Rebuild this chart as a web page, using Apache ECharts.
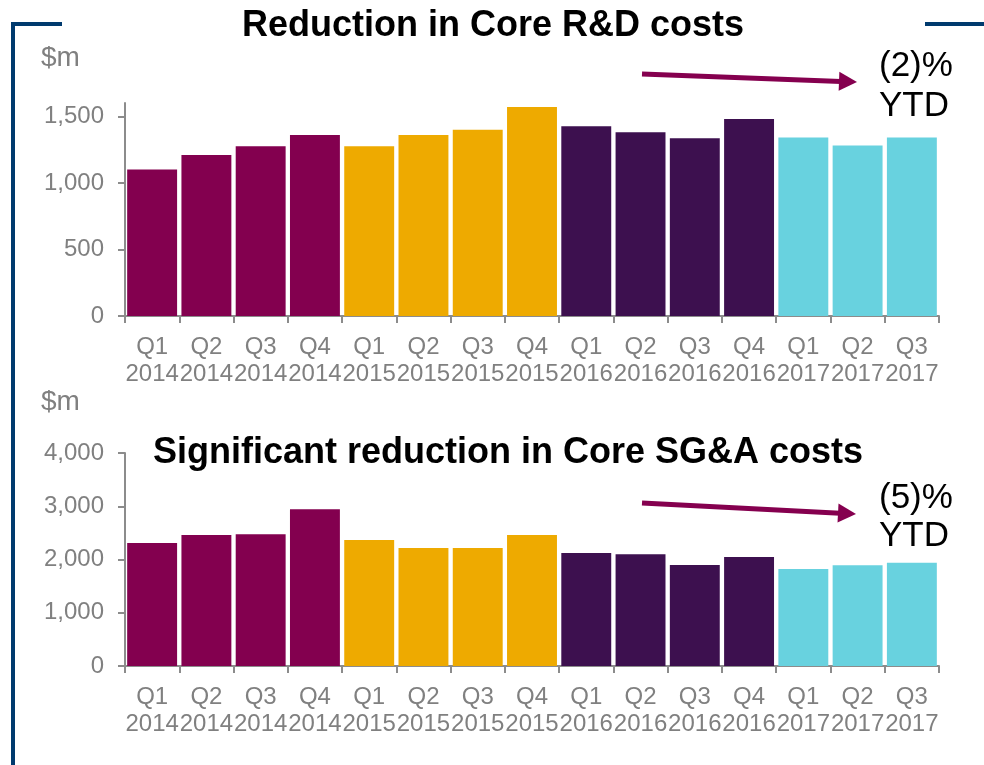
<!DOCTYPE html>
<html>
<head>
<meta charset="utf-8">
<script src="https://cdn.jsdelivr.net/npm/echarts@6/dist/echarts.min.js"></script>
<style>
html,body{margin:0;padding:0;background:#fff;}
#chart{width:984px;height:765px;}
</style>
</head>
<body>
<div id="chart"></div>
<script>
// ---- data ----
var categories = ['Q1\n2014','Q2\n2014','Q3\n2014','Q4\n2014',
                  'Q1\n2015','Q2\n2015','Q3\n2015','Q4\n2015',
                  'Q1\n2016','Q2\n2016','Q3\n2016','Q4\n2016',
                  'Q1\n2017','Q2\n2017','Q3\n2017'];
var rdCosts   = [1100,1210,1275,1360, 1275,1360,1400,1570, 1425,1380,1335,1480, 1340,1280,1340];
var sgaCosts  = [2310,2460,2475,2945, 2365,2215,2215,2460, 2120,2100,1895,2045, 1820,1890,1940];
var rdTicks   = [0,500,1000,1500];
var sgaTicks  = [0,1000,2000,3000,4000];
var titleTop = 'Reduction in Core R&D costs';
var titleBottom = 'Significant reduction in Core SG&A costs';
var noteTop = '(2)%\nYTD';
var noteBottom = '(5)%\nYTD';
var unitLabel = '$m';

// ---- styles ----
var yearColors = ['#83004F','#EEAA00','#3D104F','#68D2DF'];
var FONT = '"Liberation Sans", Arial, Helvetica, sans-serif';
var GRAY = '#808080';
var AXIS = '#8C8C8C';
var NAVY = '#003A6E';
var ARROW = '#85004F';

function coloredData(vals){
  return vals.map(function(v,i){
    return {value:v, itemStyle:{color:yearColors[Math.floor(i/4)]}};
  });
}
function fmt(v){ return Number(v).toLocaleString('en-US'); }

function xAxisCfg(gridIndex){
  return {
    type:'category', gridIndex:gridIndex, data:categories,
    axisLine:{lineStyle:{color:AXIS,width:2}},
    axisTick:{show:true,alignWithLabel:false,length:7,lineStyle:{color:AXIS,width:2}},
    axisLabel:{interval:0,color:GRAY,fontFamily:FONT,fontSize:24,lineHeight:27,margin:18}
  };
}
function yAxisCfg(gridIndex,max,interval,ticks){
  return {
    type:'value', gridIndex:gridIndex, min:0, max:max, interval:interval,
    splitLine:{show:false},
    axisLine:{show:true,lineStyle:{color:AXIS,width:2}},
    axisTick:{show:true,length:7,lineStyle:{color:AXIS,width:2},customValues:ticks},
    axisLabel:{color:GRAY,fontFamily:FONT,fontSize:24,margin:21,customValues:ticks,formatter:fmt}
  };
}

function arrow(x1,y1,x2,y2){
  var dx=x2-x1, dy=y2-y1, L=Math.sqrt(dx*dx+dy*dy), ux=dx/L, uy=dy/L;
  var hl=18, hw=9.5;
  var bx=x2-ux*hl, by=y2-uy*hl;
  return [
    {type:'line',shape:{x1:x1,y1:y1,x2:bx+ux*2,y2:by+uy*2},style:{stroke:ARROW,lineWidth:5}},
    {type:'polygon',shape:{points:[[x2,y2],[bx-uy*hw,by+ux*hw],[bx+uy*hw,by-ux*hw]]},style:{fill:ARROW}}
  ];
}

var graphics = [
  // frame
  {type:'line',shape:{x1:13,y1:24,x2:13,y2:765},style:{stroke:NAVY,lineWidth:4}},
  {type:'line',shape:{x1:11,y1:24,x2:62,y2:24},style:{stroke:NAVY,lineWidth:4}},
  {type:'line',shape:{x1:925,y1:24,x2:984,y2:24},style:{stroke:NAVY,lineWidth:4}},
  // titles
  {type:'text',x:493,y:26,style:{text:titleTop,font:'bold 36px '+FONT,fill:'#000',textAlign:'center',textVerticalAlign:'middle'}},
  {type:'text',x:508,y:453,style:{text:titleBottom,font:'bold 36px '+FONT,fill:'#000',textAlign:'center',textVerticalAlign:'middle'}},
  // unit labels
  {type:'text',x:41,y:58,style:{text:unitLabel,font:'28px '+FONT,fill:GRAY,textAlign:'left',textVerticalAlign:'middle'}},
  {type:'text',x:41,y:402,style:{text:unitLabel,font:'28px '+FONT,fill:GRAY,textAlign:'left',textVerticalAlign:'middle'}},
  // notes
  {type:'text',x:879,y:86,style:{text:noteTop,font:'35px '+FONT,lineHeight:40,fill:'#000',textAlign:'left',textVerticalAlign:'middle'}},
  {type:'text',x:879,y:517,style:{text:noteBottom,font:'35px '+FONT,lineHeight:38,fill:'#000',textAlign:'left',textVerticalAlign:'middle'}}
].concat(arrow(642,74,857,82)).concat(arrow(642,503,856,514));

var chart = echarts.init(document.getElementById('chart'),null,{renderer:'canvas'});
chart.setOption({
  animation:false,
  backgroundColor:'#fff',
  grid:[
    {left:125,right:45,top:103,height:213},
    {left:125,right:45,top:453,height:213}
  ],
  xAxis:[xAxisCfg(0),xAxisCfg(1)],
  yAxis:[yAxisCfg(0,1600,500,rdTicks),yAxisCfg(1,4000,1000,sgaTicks)],
  series:[
    {type:'bar',xAxisIndex:0,yAxisIndex:0,data:coloredData(rdCosts),barCategoryGap:'8%'},
    {type:'bar',xAxisIndex:1,yAxisIndex:1,data:coloredData(sgaCosts),barCategoryGap:'8%'}
  ],
  graphic:graphics
});
</script>
</body>
</html>
